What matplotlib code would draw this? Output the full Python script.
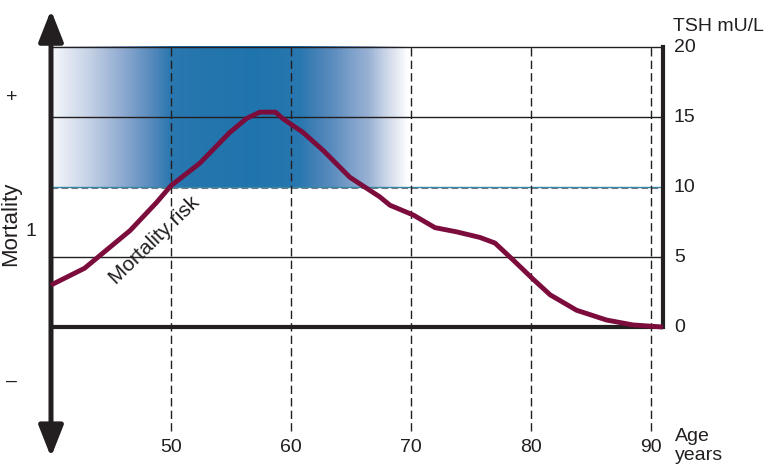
import numpy as np
import matplotlib.pyplot as plt
from matplotlib.colors import LinearSegmentedColormap
from matplotlib.patches import FancyArrowPatch

plt.rcParams['font.family'] = ['Liberation Sans', 'DejaVu Sans']

# curve
age = [40, 42.8, 46.6, 48.8, 50, 52.4, 54.9, 56.3, 57.4, 58.7, 59.3, 61.0,
       62.7, 64.9, 67.4, 68.25, 70.2, 72.0, 73.8, 75.75, 77.0, 78.5, 80.2,
       81.6, 83.8, 86.3, 88.5, 91]
tsh = [3.0, 4.2, 6.9, 8.9, 10.1, 11.7, 13.9, 14.9, 15.35, 15.35, 14.9, 13.9,
       12.6, 10.7, 9.3, 8.7, 8.0, 7.1, 6.8, 6.4, 6.0, 4.8, 3.4,
       2.3, 1.2, 0.5, 0.15, 0.0]

age_ticks = [50, 60, 70, 80, 90]
tsh_ticks = [0, 5, 10, 15, 20]
mort_labels = ['+', '1', '\u2013']
mort_pos = [16.4, 6.8, -3.9]

x0, x1 = 40, 91          # plot frame
ink = '#231f20'
curve_col = '#7b0c3c'

fig = plt.figure(figsize=(7.76, 4.69), dpi=100)
ax = fig.add_axes([0, 0, 1, 1])
ax.set_xlim(35.75, 100.42)
ax.set_ylim(-10.14, 23.36)
ax.axis('off')

# blue band (TSH 10-20)
cmap = LinearSegmentedColormap.from_list(
    'band', [(0, '#ffffff'), (0.35, '#c3d0e5'), (0.6, '#8eaad0'),
             (0.85, '#4f86ba'), (1, '#2074ad')])
gx = np.linspace(40, 70, 400)
w = np.interp(gx, [40, 50, 57, 60.8, 63.5, 66.5, 69.8, 70],
              [0.05, 0.97, 1.0, 0.97, 0.8, 0.55, 0.0, 0.0])
ax.imshow(w[None, :], cmap=cmap, vmin=0, vmax=1, aspect='auto',
          extent=[40, 70, 10, 20], zorder=0, interpolation='bilinear')

# grid
for v in [5, 15, 20]:
    ax.plot([x0, x1], [v, v], color=ink, lw=1.0, zorder=2)
ax.plot([x0, x1], [9.93, 9.93], color=ink, lw=0.8, ls=(0, (6, 3)), alpha=0.6, zorder=2)
ax.plot([x0, x1], [10, 10], color='#3a86a6', lw=1.0, zorder=2)
ax.vlines(age_ticks, -7.4, 20, colors=ink, lw=1.0, linestyles=(0, (6, 3)), zorder=2)

# frame
ax.plot([x0, x1], [0, 0], color=ink, lw=3.0, zorder=3, solid_capstyle='butt')
ax.plot([x1, x1], [0, 20], color=ink, lw=3.0, zorder=3, solid_capstyle='projecting')
arr = FancyArrowPatch((x0, -9.29), (x0, 22.64),
                      arrowstyle='<|-|>,head_length=1.9,head_width=0.75',
                      mutation_scale=10, lw=3.6, color=ink, shrinkA=0, shrinkB=0,
                      zorder=4)
ax.add_patch(arr)

# TSH curve
ax.plot(age, tsh, color=curve_col, lw=3.5, zorder=5,
        solid_joinstyle='round', solid_capstyle='butt')

# labels
for t in tsh_ticks:
    ax.text(91.9, t, str(t), ha='left', va='center', fontsize=14, color=ink)
ax.text(91.8, 21.5, 'TSH mU/L', ha='left', va='center', fontsize=14, color=ink)
for a in age_ticks:
    ax.text(a, -8.6, str(a), ha='center', va='center', fontsize=14, color=ink)
ax.text(92.0, -8.5, 'Age\nyears', ha='left', va='center', fontsize=14,
        color=ink, linespacing=1.1)
ax.text(36.6, 7.4, 'Mortality', rotation=90, ha='center', va='center',
        fontsize=16, color=ink)
for lab, y in zip(mort_labels, mort_pos):
    xx = 38.3 if lab == '1' else 36.75
    ax.text(xx, y, lab, ha='center', va='center', fontsize=14, color=ink)
ax.text(48.6, 6.15, 'Mortality risk', rotation=44, ha='center', va='center',
        fontsize=15, color=ink, rotation_mode='anchor')

fig.savefig('out.png', dpi=100)
